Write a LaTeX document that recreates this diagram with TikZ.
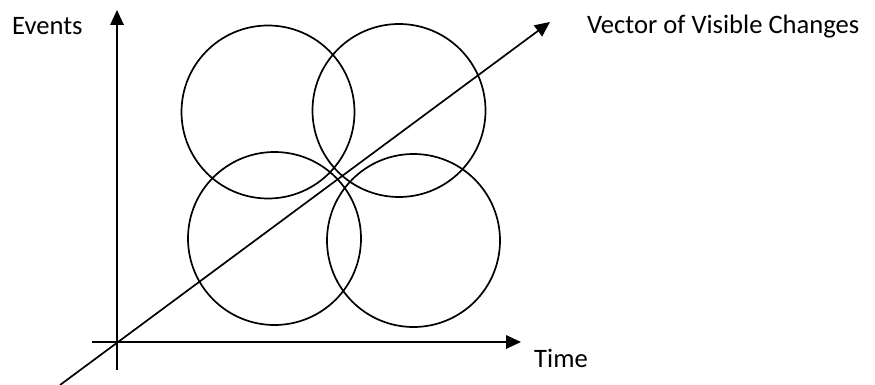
\documentclass[tikz,border=0pt]{standalone}
\usepackage{fontspec}
\setmainfont{Carlito}
\usetikzlibrary{arrows.meta}
\begin{document}
\begin{tikzpicture}[x=1pt,y=-1pt,
  ring/.style={draw, line width=1.7pt, circle, inner sep=0pt, minimum size=173pt},
  axis/.style={line width=1.7pt, -{Triangle[length=15pt,width=13.5pt]}},
  lbl/.style={font=\fontsize{26.6}{31}\selectfont, inner sep=0pt, anchor=base west}]
\useasboundingbox (0,0) rectangle (875,385);
\node[ring] (c1) at (268,112) {};
\node[ring] (c2) at (399,110.5) {};
\node[ring] (c3) at (274.5,238.5) {};
\node[ring] (c4) at (413.5,240.5) {};
\coordinate (vb) at (117,370);
\coordinate (vt) at (117,10);
\coordinate (hl) at (92,342);
\coordinate (hr) at (521,342);
\coordinate (db) at (60,385);
\coordinate (dt) at (550,22);
\draw[axis] (vb) -- (vt);
\draw[axis] (hl) -- (hr);
\draw[axis] (db) -- (dt);
\node[lbl] (ev) at (12,35) {Events};
\node[lbl] (vc) at (587,34) {Vector of Visible Changes};
\node[lbl] (tm) at (534,367) {Time};
\end{tikzpicture}
\end{document}
